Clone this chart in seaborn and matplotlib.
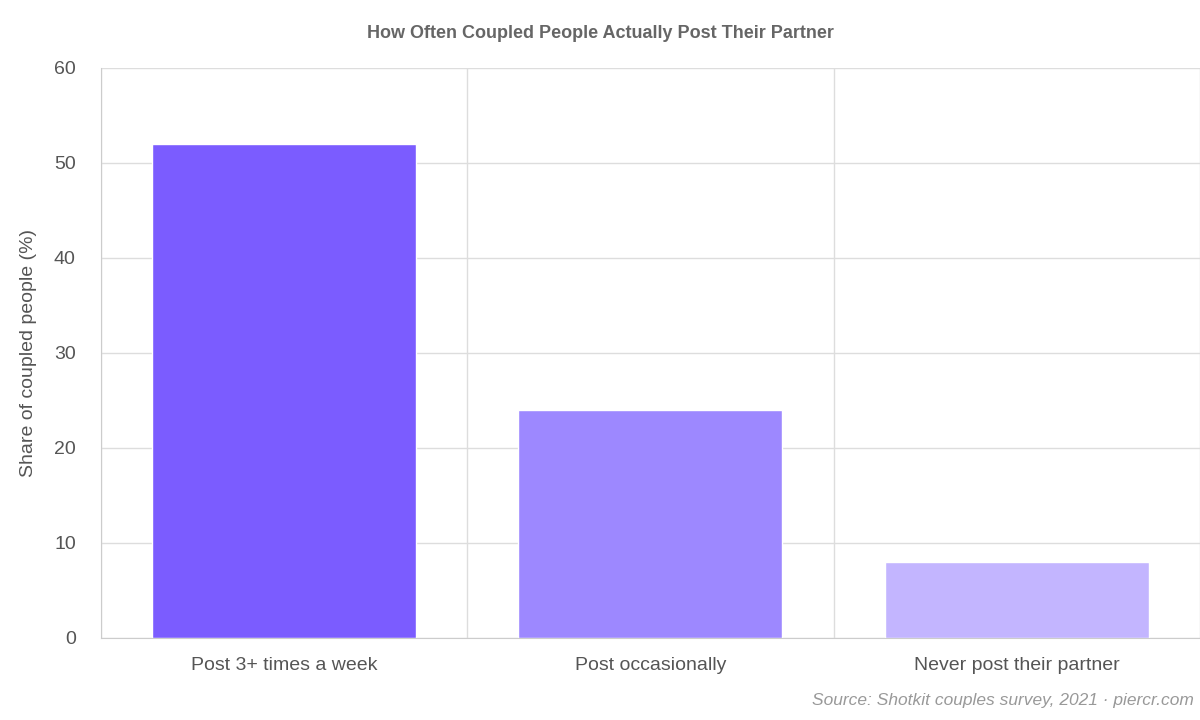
import matplotlib
matplotlib.use("Agg")
import matplotlib.pyplot as plt
import seaborn as sns
import pandas as pd
from matplotlib.ticker import FixedLocator

categories = ["Post 3+ times a week", "Post occasionally", "Never post their partner"]
values = [52, 24, 8]
colors = ["#7B5CFF", "#9D88FF", "#C3B5FF"]

sns.set_style("white")
plt.rcParams['font.family'] = ['Liberation Sans', 'DejaVu Sans']

df = pd.DataFrame({"cat": categories, "val": values})
fig = plt.figure(figsize=(12, 7.2), dpi=100)
ax = fig.add_axes([0.084, 0.114, 0.916, 0.792])
sns.barplot(data=df, x="cat", y="val", hue="cat", palette=colors, width=0.72,
            legend=False, ax=ax, saturation=1)
ax.set_xlim(-0.5, 2.5)
ax.set_ylim(0, 60)
ax.set_yticks([0, 10, 20, 30, 40, 50, 60])
ax.xaxis.set_minor_locator(FixedLocator([-0.5, 0.5, 1.5, 2.5]))
ax.grid(axis="y", color="#dddddd", linewidth=1)
ax.grid(axis="x", which="minor", color="#dddddd", linewidth=1)
ax.set_axisbelow(True)
ax.tick_params(axis="x", which="major", length=0, pad=14, labelsize=14, labelcolor="#555555")
ax.tick_params(axis="x", which="minor", length=17, color="#cccccc")
ax.tick_params(axis="y", length=12, color="#cccccc", labelsize=14, labelcolor="#555555", pad=6)
for s in ["top", "right"]:
    ax.spines[s].set_visible(False)
ax.spines["left"].set_color("#cccccc")
ax.spines["bottom"].set_color("#cccccc")
ax.set_xlabel("")
ax.set_ylabel("Share of coupled people (%)", fontsize=14, color="#555555", labelpad=12)
fig.text(0.5, 0.953, "How Often Coupled People Actually Post Their Partner", ha="center",
         va="center", fontsize=13, fontweight="bold", color="#666666")
fig.text(0.995, 0.016, "Source: Shotkit couples survey, 2021 · piercr.com", ha="right",
         va="bottom", fontsize=12.5, style="italic", color="#999999")
fig.savefig("out.png", dpi=100)
